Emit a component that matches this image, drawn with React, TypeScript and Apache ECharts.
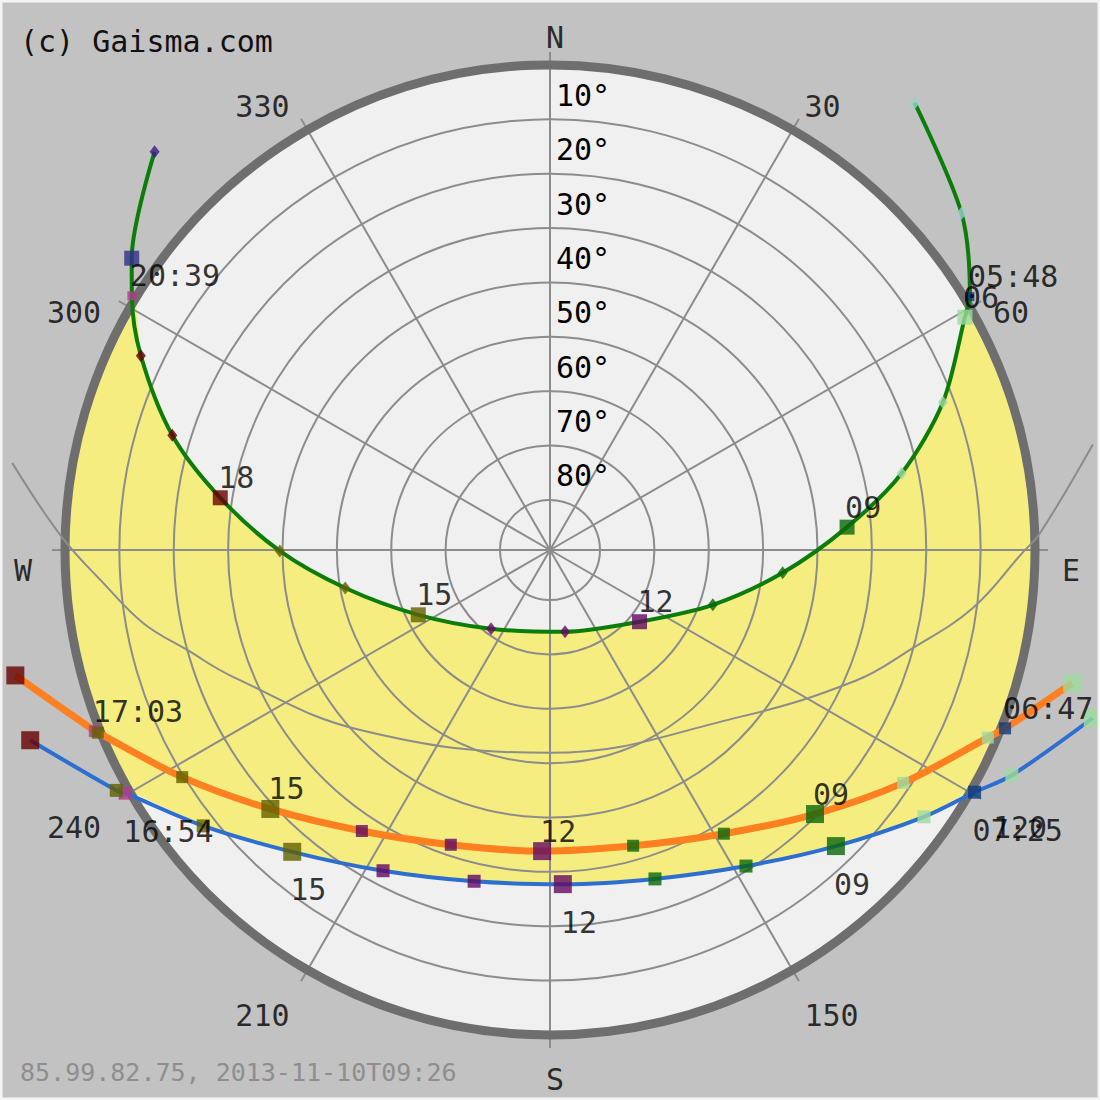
import React, { useEffect, useRef } from 'react';
import * as echarts from 'echarts';

const FONT = '"DejaVu Sans Mono", "Liberation Mono", monospace';
const GRID = '#8c8c8c';
const HORIZON_RADIUS = 485; // px radius of the 0° altitude circle
const RADIUS_MAX = 89.2; // altitude placed at the centre of the polar plot
const ALT_MIN = -20; // lowest altitude drawn (below-horizon part of the paths)
const LABEL_ALT = -5.5; // where the azimuth labels sit (just outside horizon)

// Axis ticks / labels
const ALT_TICKS = [10, 20, 30, 40, 50, 60, 70, 80];
const AZ_TICKS = [0, 30, 60, 90, 120, 150, 180, 210, 240, 270, 300, 330];
const AZ_LABELS = ['N', '30', '60', 'E', '120', '150', 'S', '210', '240', 'W', '300', '330'];

// Summer solstice path (green)
const SUMMER_HOURS = [4, 5, 6, 7, 8, 9, 10, 11, 12, 13, 14, 15, 16, 17, 18, 19, 20, 21, 22];
const SUMMER_AZ = [39.2, 50.7, 60.7, 69.4, 77.7, 85.6, 95.6, 108.6, 128.7, 169.6, 216.8, 243.8, 259.5, 269.8, 279.0, 286.9, 295.4, 304.9, 315.2];
const SUMMER_ALT = [-16.9, -8.6, 1.7, 12.0, 23.0, 34.4, 46.2, 57.6, 68.1, 73.9, 71.1, 62.2, 50.9, 39.5, 27.8, 16.6, 5.9, -4.6, -14.0];
const SUMMER_RISE_SET: [string, number, number][] = [['05:48', 58.9, -1.0], ['20:39', 301.3, -0.8]];

// Today's path (orange)
const TODAY_HOURS = [6, 7, 8, 9, 10, 11, 12, 13, 14, 15, 16, 17, 18];
const TODAY_AZ = [104.3, 113.2, 123.4, 134.9, 148.5, 164.3, 181.5, 198.6, 213.8, 227.2, 238.3, 248.0, 256.8];
const TODAY_ALT = [-9.9, 1.6, 11.4, 20.4, 28.0, 32.7, 33.8, 32.0, 27.0, 19.1, 9.7, -0.5, -11.8];
const TODAY_RISE_SET: [string, number, number][] = [['06:47', 111.4, -0.7], ['17:03', 248.3, -0.9]];

// Winter solstice path (blue)
const WINTER_HOURS = [6, 7, 8, 9, 10, 11, 12, 13, 14, 15, 16, 17, 18];
const WINTER_AZ = [107.2, 116.0, 125.5, 136.0, 148.2, 162.3, 177.8, 192.9, 207.5, 220.5, 231.5, 241.0, 249.9];
const WINTER_ALT = [-15.3, -5.3, 4.7, 13.5, 20.8, 25.7, 27.7, 26.7, 22.7, 16.2, 7.7, -2.0, -12.6];
const WINTER_RISE_SET: [string, number, number][] = [['07:25', 119.7, -0.7], ['16:54', 240.2, -0.8]];

// Equinox path (grey guide curve)
const EQUINOX_AZ = [79.0, 88.0, 90.4, 97.8, 105.5, 113.0, 131.3, 180.0, 226.5, 248.2, 254.6, 259.8, 265.8, 271.5, 279.2];
const EQUINOX_ALT = [-12.5, -1.0, 2.4, 10.7, 20.5, 27.9, 42.7, 51.9, 41.1, 26.4, 20.0, 13.2, 6.8, -0.6, -11.0];

const COPYRIGHT = '(c) Gaisma.com';
const FOOTER = '85.99.82.75, 2013-11-10T09:26';

function hourColor(h: number): string {
  if (h <= 5) return '#99cfcc';
  if (h <= 8) return '#9edb9e';
  if (h <= 11) return '#0a660a';
  if (h <= 14) return '#620a62';
  if (h <= 17) return '#606000';
  if (h <= 20) return '#680000';
  if (h <= 21) return '#30308a';
  return '#3a1a88';
}
const RISE_COLOR = '#0c3a80';
const SET_COLOR = '#b03c8c';

type PathDef = {
  hours: number[];
  az: number[];
  alt: number[];
  riseSet: [string, number, number][];
  color: string;
  width: number;
  big: number;
  small: number | number[];
  smallSymbol: string;
  riseSize: number;
  below: boolean;
};

const PATHS: PathDef[] = [
  { hours: SUMMER_HOURS, az: SUMMER_AZ, alt: SUMMER_ALT, riseSet: SUMMER_RISE_SET, color: '#0b7d0b', width: 4, big: 15, small: [10, 13], smallSymbol: 'diamond', riseSize: 9, below: false },
  { hours: TODAY_HOURS, az: TODAY_AZ, alt: TODAY_ALT, riseSet: TODAY_RISE_SET, color: '#ff8020', width: 7, big: 18, small: 12, smallSymbol: 'rect', riseSize: 12, below: false },
  { hours: WINTER_HOURS, az: WINTER_AZ, alt: WINTER_ALT, riseSet: WINTER_RISE_SET, color: '#2d6fd0', width: 4, big: 18, small: 13, smallSymbol: 'rect', riseSize: 13, below: true },
];

function toTime(s: string) {
  const [h, m] = s.split(':').map(Number);
  return h + m / 60;
}

function timedPoints(p: PathDef) {
  const pts = p.hours.map((h, i) => ({ t: h, v: [p.alt[i], p.az[i]] }));
  p.riseSet.forEach(([s, az, alt]) => pts.push({ t: toTime(s), v: [alt, az] }));
  pts.sort((a, b) => a.t - b.t);
  return pts;
}

function dayPortion(p: PathDef) {
  const t0 = toTime(p.riseSet[0][0]);
  const t1 = toTime(p.riseSet[1][0]);
  return timedPoints(p)
    .filter((q) => q.t >= t0 - 1e-6 && q.t <= t1 + 1e-6)
    .map((q) => [Math.max(q.v[0], 0), q.v[1]]);
}

const TEXT = { fontFamily: FONT, fontSize: 30, color: '#000' };
const DATA_POLAR = 1; // wide polar (includes below-horizon band) used for all data

function markerSeries(p: PathDef) {
  const lab = (text: string) => ({
    show: true,
    formatter: text,
    position: 'inside',
    align: 'left',
    verticalAlign: 'middle',
    offset: p.below ? [-2, 38] : [-2, -20],
    ...TEXT,
  });
  const data: any[] = [];
  p.riseSet.forEach(([s, az, alt], i) => {
    data.push({
      value: [alt, az],
      symbol: 'rect',
      symbolSize: p.riseSize,
      itemStyle: { color: i === 0 ? RISE_COLOR : SET_COLOR },
      label: lab(s),
    });
  });
  p.hours.forEach((h, i) => {
    const isBig = h % 3 === 0;
    const item: any = {
      value: [p.alt[i], p.az[i]],
      symbol: isBig ? 'rect' : p.smallSymbol,
      symbolSize: isBig ? p.big : p.small,
      itemStyle: { color: hourColor(h) },
    };
    if (isBig && p.alt[i] > 0) item.label = lab(String(h).padStart(2, '0'));
    data.push(item);
  });
  return {
    type: 'scatter',
    coordinateSystem: 'polar',
    polarIndex: DATA_POLAR,
    clip: false,
    silent: true,
    z: 4,
    data,
  };
}

function lineSeries(p: PathDef) {
  return {
    type: 'line',
    coordinateSystem: 'polar',
    polarIndex: DATA_POLAR,
    clip: false,
    silent: true,
    symbol: 'none',
    smooth: 0.3,
    z: 3,
    lineStyle: { color: p.color, width: p.width },
    data: timedPoints(p).map((q) => q.v),
  };
}

function buildOption() {
  const summer = PATHS[0];
  const winter = PATHS[2];
  const wideRadius = (HORIZON_RADIUS * (RADIUS_MAX - ALT_MIN)) / RADIUS_MAX;

  const azLabelData = AZ_TICKS.map((az, i) => {
    const rad = (az * Math.PI) / 180;
    const s = Math.sin(rad);
    const c = Math.cos(rad);
    const align = Math.abs(s) < 0.1 ? 'center' : s > 0 ? 'left' : 'right';
    const dx = align === 'center' ? 5 : -3;
    const dy = c > 0.7 ? 2 : c < -0.99 ? 15 : 20;
    return {
      value: [LABEL_ALT, az],
      label: {
        show: true,
        formatter: AZ_LABELS[i],
        position: 'inside',
        align,
        verticalAlign: 'middle',
        offset: [dx, dy],
        ...TEXT,
      },
    };
  });

  const skySeries = {
    type: 'custom',
    coordinateSystem: 'polar',
    polarIndex: DATA_POLAR,
    silent: true,
    clip: false,
    z: -5,
    data: [[0, 0]],
    renderItem: (_params: any, api: any) => {
      const c = api.coord([RADIUS_MAX, 0]);
      const e = api.coord([0, 0]);
      const R = Math.hypot(e[0] - c[0], e[1] - c[1]);
      const pts: number[][] = [];
      const sDay = dayPortion(summer);
      const wDay = dayPortion(winter);
      sDay.forEach((v) => pts.push(api.coord(v)));
      const gSet = summer.riseSet[1][1];
      const wSet = winter.riseSet[1][1];
      for (let a = gSet - 2; a > wSet; a -= 2) pts.push(api.coord([0, a]));
      wDay.slice().reverse().forEach((v) => pts.push(api.coord(v)));
      const wRise = winter.riseSet[0][1];
      const gRise = summer.riseSet[0][1];
      for (let a = wRise - 2; a > gRise; a -= 2) pts.push(api.coord([0, a]));
      return {
        type: 'group',
        children: [
          { type: 'circle', shape: { cx: c[0], cy: c[1], r: R }, style: { fill: '#f0f0f0' } },
          { type: 'polygon', shape: { points: pts }, style: { fill: '#f5ed80' } },
        ],
      };
    },
  };

  return {
    animation: false,
    backgroundColor: '#c2c2c2',
    polar: [
      { center: [550, 550], radius: HORIZON_RADIUS },
      { center: [550, 550], radius: wideRadius },
    ],
    angleAxis: [
      {
        polarIndex: 0,
        type: 'value',
        min: 0,
        max: 360,
        interval: 30,
        startAngle: 90,
        clockwise: true,
        z: 1,
        axisLine: { show: true, lineStyle: { color: '#6e6e6e', width: 9 } },
        axisTick: { show: true, length: 13, lineStyle: { color: GRID, width: 2 } },
        axisLabel: { show: false },
        splitLine: { show: true, lineStyle: { color: GRID, width: 2 } },
        splitArea: { show: false },
      },
      {
        polarIndex: 1,
        type: 'value',
        min: 0,
        max: 360,
        startAngle: 90,
        clockwise: true,
        show: false,
      },
    ],
    radiusAxis: [
      {
        polarIndex: 0,
        type: 'value',
        min: 0,
        max: RADIUS_MAX,
        interval: 10,
        inverse: true,
        z: 1,
        axisLine: { show: false },
        axisTick: { show: false },
        axisLabel: {
          show: true,
          margin: -6,
          align: 'left',
          verticalAlign: 'bottom',
          padding: [0, 0, 9, 0],
          formatter: (v: number) =>
            ALT_TICKS.indexOf(Math.round(v)) >= 0 && Math.abs(v - Math.round(v)) < 1e-6 ? `${Math.round(v)}°` : '',
          ...TEXT,
        },
        splitLine: {
          show: true,
          lineStyle: {
            color: ['rgba(0,0,0,0)', GRID, GRID, GRID, GRID, GRID, GRID, GRID, GRID, 'rgba(0,0,0,0)'],
            width: 2,
          },
        },
      },
      {
        polarIndex: 1,
        type: 'value',
        min: ALT_MIN,
        max: RADIUS_MAX,
        inverse: true,
        show: false,
      },
    ],
    series: [
      skySeries,
      {
        type: 'line',
        coordinateSystem: 'polar',
        polarIndex: DATA_POLAR,
        clip: false,
        silent: true,
        symbol: 'none',
        smooth: 0.4,
        z: 2,
        lineStyle: { color: GRID, width: 2 },
        data: EQUINOX_AZ.map((az, i) => [EQUINOX_ALT[i], az]),
      },
      ...PATHS.map(lineSeries),
      ...PATHS.map(markerSeries),
      {
        type: 'scatter',
        coordinateSystem: 'polar',
        polarIndex: DATA_POLAR,
        clip: false,
        silent: true,
        z: 5,
        symbolSize: 1,
        itemStyle: { color: 'rgba(0,0,0,0)' },
        data: azLabelData,
      },
    ],
    graphic: [
      {
        type: 'text',
        left: 20,
        top: 26,
        silent: true,
        style: { text: COPYRIGHT, fontFamily: FONT, fontSize: 30, fill: '#111' },
      },
      {
        type: 'text',
        left: 20,
        top: 1060,
        silent: true,
        style: { text: FOOTER, fontFamily: FONT, fontSize: 25, fill: '#8e8e8e' },
      },
      {
        type: 'rect',
        silent: true,
        z: 100,
        shape: { x: 0, y: 0, width: 1100, height: 1100 },
        style: { fill: 'none', stroke: '#f4f4f4', lineWidth: 5 },
      },
    ],
  };
}

export default function App() {
  const ref = useRef<HTMLDivElement>(null);
  useEffect(() => {
    const chart = echarts.init(ref.current as HTMLDivElement, undefined, { renderer: 'svg' });
    chart.setOption(buildOption() as any);
    return () => chart.dispose();
  }, []);
  return <div ref={ref} style={{ position: 'absolute', left: 0, top: 0, width: 1100, height: 1100 }} />;
}
